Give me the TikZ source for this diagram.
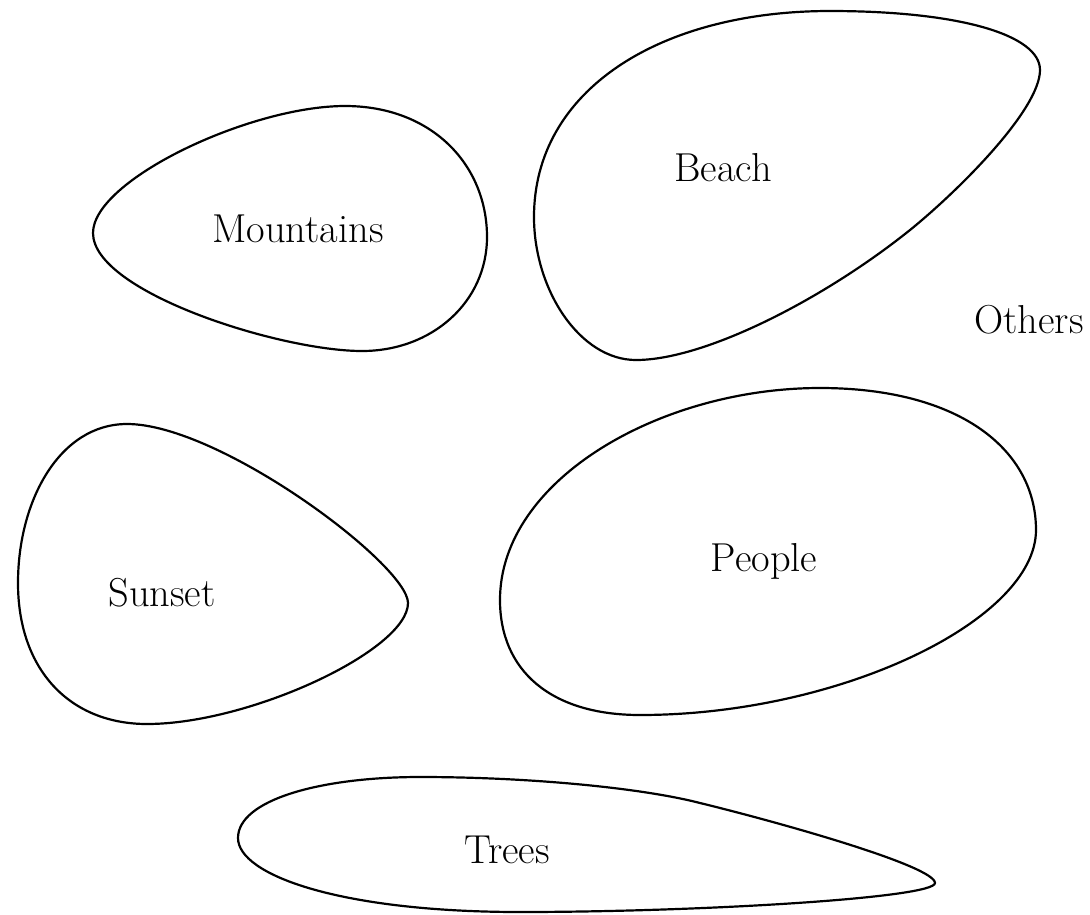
\documentclass[tikz,border=0pt]{standalone}
\usepackage{tikz}
\usetikzlibrary{positioning}

\tikzset{
  blob/.style={draw, line width=1.25pt},
  tag/.style={font=\fontsize{23}{27}\selectfont}
}

\begin{document}
\begin{tikzpicture}[x=0.02cm, y=-0.02cm]
    \useasboundingbox (0,0) rectangle (1090,914);

    % Mountains
    \draw[blob] (93,233) .. controls (93,180) and (250,106) .. (345,106)
        .. controls (432,106) and (487,165) .. (487,237)
        .. controls (487,302) and (432,351) .. (362,351)
        .. controls (280,351) and (93,292) .. cycle;
    \node[tag] (mountains) at (298,229) {Mountains};

    % Beach
    \draw[blob] (534,217) .. controls (534,90) and (660,11) .. (830,11)
        .. controls (960,11) and (1040,35) .. (1040,70)
        .. controls (1040,110) and (957,192) .. (910,230)
        .. controls (824,299) and (705,360) .. (636,360)
        .. controls (580,360) and (534,290) .. cycle;
    \node[tag] (beach) at (723,168) {Beach};

    % Others
    \node[tag] (others) at (1029,320) {Others};

    % Sunset
    \draw[blob] (127,424) .. controls (60,424) and (18,500) .. (18,583)
        .. controls (18,670) and (70,724) .. (147,724)
        .. controls (250,724) and (408,650) .. (408,603)
        .. controls (408,565) and (220,424) .. cycle;
    \node[tag] (sunset) at (162,593) {Sunset};

    % People
    \draw[blob] (500,600) .. controls (500,480) and (660,388) .. (820,388)
        .. controls (960,388) and (1036,450) .. (1036,530)
        .. controls (1036,620) and (840,715) .. (640,715)
        .. controls (550,715) and (500,670) .. cycle;
    \node[tag] (people) at (764,561) {People};

    % Trees
    \draw[blob] (238,838) .. controls (238,800) and (320,777) .. (420,777)
        .. controls (530,777) and (642,788) .. (700,803)
        .. controls (778,822) and (935,866) .. (935,883)
        .. controls (935,898) and (700,912) .. (520,912)
        .. controls (340,912) and (238,875) .. cycle;
    \node[tag] (trees) at (507,850) {Trees};
\end{tikzpicture}
\end{document}
